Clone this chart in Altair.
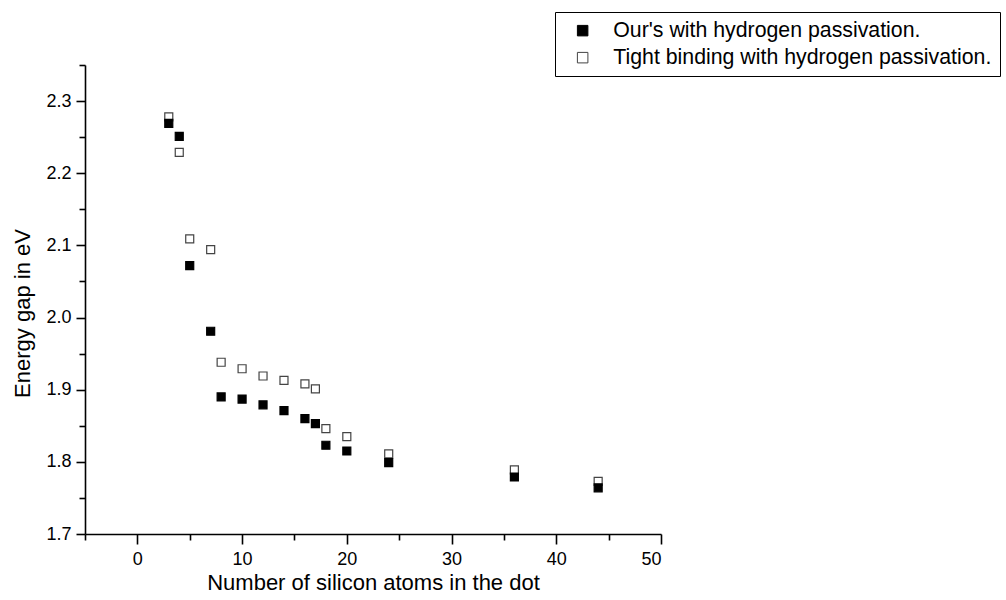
import altair as alt
import pandas as pd

# Number of silicon atoms in each dot
atoms = [3, 4, 5, 7, 8, 10, 12, 14, 16, 17, 18, 20, 24, 36, 44]

# Energy gap (eV) from our calculation, hydrogen passivated
gap_ours = [2.269, 2.251, 2.072, 1.981, 1.890, 1.887, 1.879, 1.871, 1.860,
            1.853, 1.823, 1.815, 1.799, 1.779, 1.764]

# Energy gap (eV) from tight binding, hydrogen passivated
gap_tight = [2.278, 2.229, 2.109, 2.094, 1.938, 1.929, 1.919, 1.913, 1.908,
             1.901, 1.846, 1.835, 1.811, 1.789, 1.773]

series_names = ["Our's with hydrogen passivation.",
                "Tight binding with hydrogen passivation."]

x_ticks = [-5, 0, 5, 10, 15, 20, 25, 30, 35, 40, 45, 50]
y_ticks = [1.7, 1.75, 1.8, 1.85, 1.9, 1.95, 2.0, 2.05, 2.1, 2.15, 2.2, 2.25, 2.3, 2.35]

rows = []
# tight-binding markers first so the filled markers sit on top
for a, g in zip(atoms, gap_tight):
    rows.append({"atoms": a, "gap": g, "series": series_names[1]})
for a, g in zip(atoms, gap_ours):
    rows.append({"atoms": a, "gap": g, "series": series_names[0]})
df = pd.DataFrame(rows)

x_major = "datum.value % 10 === 0"
y_major = "abs(datum.value * 10 - round(datum.value * 10)) < 0.001"

legend = alt.Legend(
    title=None,
    orient="none",
    legendX=470,
    legendY=-53,
    strokeColor="black",
    fillColor="white",
    padding=8,
    symbolType="square",
    symbolSize=110,
    symbolStrokeWidth=1,
    symbolOffset=9,
    labelFontSize=21.3,
    labelOffset=20,
    labelLimit=700,
    labelColor="black",
    rowPadding=5,
)

chart = alt.Chart(df).mark_point(
    shape="square", filled=True, size=64, strokeWidth=1.2, opacity=1
).encode(
    x=alt.X(
        "atoms:Q",
        scale=alt.Scale(domain=[-5, 50], nice=False, zero=False),
        axis=alt.Axis(
            title="Number of silicon atoms in the dot",
            values=x_ticks,
            labelExpr=f"{x_major} ? datum.label : ''",
            tickSize={"condition": {"test": x_major, "value": 10}, "value": 6},
            labelPadding=6,
            titlePadding=4,
        ),
    ),
    y=alt.Y(
        "gap:Q",
        scale=alt.Scale(domain=[1.7, 2.35], nice=False, zero=False),
        axis=alt.Axis(
            title="Energy gap in eV",
            values=y_ticks,
            labelExpr=f"{y_major} ? format(datum.value, '.1f') : ''",
            tickSize={"condition": {"test": y_major, "value": 9}, "value": 6},
            labelPadding=5,
            titleX=-51,
            titleY=248,
            titleBaseline="bottom",
        ),
    ),
    fill=alt.Fill(
        "series:N",
        scale=alt.Scale(domain=series_names, range=["black", "white"]),
        legend=legend,
    ),
    stroke=alt.Stroke(
        "series:N",
        scale=alt.Scale(domain=series_names, range=["black", "#444444"]),
        legend=legend,
    ),
).properties(
    width=576,
    height=469,
    autosize="none",
    padding={"left": 85, "top": 65, "right": 345, "bottom": 66},
    background="white",
).configure(
    font="Liberation Sans",
).configure_view(
    stroke=None,
).configure_axis(
    grid=False,
    domainColor="black",
    domainWidth=1.6,
    tickColor="black",
    tickWidth=1.6,
    labelColor="black",
    labelFont="Liberation Sans",
    labelFontSize=18,
    titleColor="black",
    titleFont="Liberation Sans",
    titleFontSize=22,
    titleFontWeight="normal",
)

chart.save("out.html", embed_options={"renderer": "svg", "actions": False})
